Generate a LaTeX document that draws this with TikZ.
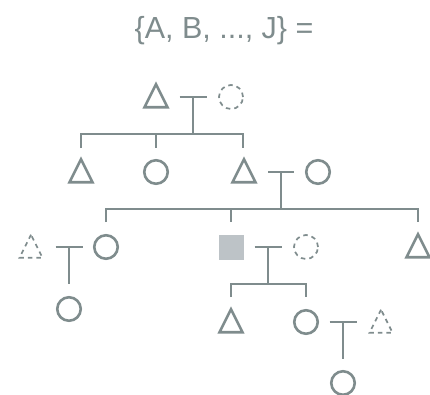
\documentclass[tikz,border=0pt]{standalone}
\usepackage{fontspec}
\setmainfont{Liberation Sans}
\usetikzlibrary{shapes.geometric}
\definecolor{pline}{HTML}{7F8C8D}
\definecolor{pfill}{HTML}{BDC3C7}
\tikzset{
  x=1pt, y=-1pt,
  every path/.style={draw=pline, line width=2.6pt},
  tri/.style={draw=pline, line width=2.6pt, isosceles triangle, isosceles triangle stretches,
    shape border rotate=90, minimum width=23, minimum height=23, inner sep=0pt, anchor=lower side, yshift=-11.5pt},
  dtri/.style={tri, line width=1.7pt, dash pattern=on 4.5pt off 4pt},
  circ/.style={draw=pline, line width=2.6pt, circle, minimum size=23.5, inner sep=0pt},
  dcirc/.style={circ, line width=1.7pt, minimum size=24, dash pattern=on 4.5pt off 4pt},
  sq/.style={fill=pfill, draw=none, minimum size=25, inner sep=0pt},
}
\begin{document}
\begin{tikzpicture}
\useasboundingbox[draw=none] (0,0) rectangle (430,394);
\node[text=pline, font=\fontsize{30.5}{30.5}\selectfont, draw=none] (title) at (224,31) {\{A, B, ..., J\} =};
% generation 1
\node[tri] (g1a) at (156,97) {};
\node[dcirc] (g1b) at (231,97) {};
\coordinate (m1) at (193,97);
\draw ([xshift=-13.5]m1) -- ([xshift=13.5]m1);
\coordinate (s1) at (193,134);
\draw (m1) -- (s1);
% generation 2
\node[tri] (g2a) at (81,172) {};
\node[circ] (g2b) at (156,172) {};
\node[tri] (g2c) at (244,172) {};
\node[circ] (g2d) at (318,172) {};
\draw (81,148) -- (81,134) -- (243,134) -- (243,148);
\draw (156,134) -- (156,148);
\coordinate (m2) at (281,172);
\draw ([xshift=-13]m2) -- ([xshift=13]m2);
\coordinate (s2) at (281,209);
\draw (m2) -- (s2);
% generation 3
\node[dtri] (g3a) at (31,247) {};
\node[circ] (g3b) at (106,247) {};
\node[sq] (g3c) at (231,247) {};
\node[dcirc] (g3d) at (306,247) {};
\node[tri] (g3e) at (418,247) {};
\draw (106,222) -- (106,209) -- (418,209) -- (418,222);
\draw (231,209) -- (231,222);
\coordinate (m3) at (69,247);
\draw ([xshift=-13.5]m3) -- ([xshift=13.5]m3);
\draw (m3) -- (69,284);
\coordinate (m4) at (268,247);
\draw ([xshift=-13.5]m4) -- ([xshift=13.5]m4);
\coordinate (s4) at (268,284);
\draw (m4) -- (s4);
% generation 4
\node[circ] (g4a) at (69,309) {};
\node[tri] (g4b) at (231,322) {};
\node[circ] (g4c) at (306,322) {};
\node[dtri] (g4d) at (381,322) {};
\draw (231,297) -- (231,284) -- (306,284) -- (306,297);
\coordinate (m5) at (343,322);
\draw ([xshift=-13.5]m5) -- ([xshift=13.5]m5);
\draw (m5) -- (343,359);
% generation 5
\node[circ] (g5a) at (343,383) {};
\end{tikzpicture}
\end{document}
